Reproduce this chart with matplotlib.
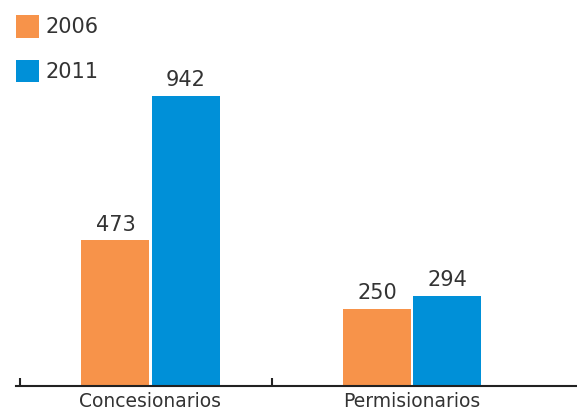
import numpy as np
import matplotlib.pyplot as plt
from matplotlib.ticker import FixedLocator

categories = ["Concesionarios", "Permisionarios"]
years = ["2006", "2011"]
values_2006 = [473, 250]
values_2011 = [942, 294]

COLORS = ["#F7934A", "#0090D8"]
TEXT = "#333333"

fig = plt.figure(figsize=(5.77, 4.12), dpi=100)
ax = fig.add_axes([16 / 577, 26 / 412, 561 / 577, 386 / 412])

x = np.arange(len(categories))
w = 0.26
gap = 0.004
b1 = ax.bar(x - w / 2 - gap, values_2006, w, color=COLORS[0], label=years[0])
b2 = ax.bar(x + w / 2 + gap, values_2011, w, color=COLORS[1], label=years[1])

for bars in (b1, b2):
    for r in bars:
        ax.annotate(f"{int(r.get_height())}",
                    (r.get_x() + r.get_width() / 2, r.get_height()),
                    xytext=(0, 4), textcoords="offset points",
                    ha="center", va="bottom", fontsize=15, color=TEXT)

ax.set_xlim(-0.514, 1.63)
ax.set_ylim(0, 1254)

for s in ["top", "right", "left"]:
    ax.spines[s].set_visible(False)
ax.spines["bottom"].set_color("#222222")
ax.spines["bottom"].set_linewidth(1.5)
ax.set_yticks([])

ax.set_xticks(x)
ax.set_xticklabels(categories, fontsize=13.5, color=TEXT)
ax.tick_params(axis="x", which="major", length=0, pad=4)
ax.xaxis.set_minor_locator(FixedLocator([-0.5, 0.465]))
ax.tick_params(axis="x", which="minor", direction="in", length=6, width=1.5, color="#222222")

ax.legend(loc="upper left", bbox_to_anchor=(16 / 577, 1 - 15 / 412),
          bbox_transform=fig.transFigure, frameon=False,
          fontsize=15, handlelength=1.1, handleheight=1.3, handletextpad=0.3,
          labelspacing=1.05, borderaxespad=0, borderpad=0, labelcolor=TEXT)

fig.savefig("out.png", dpi=100)
